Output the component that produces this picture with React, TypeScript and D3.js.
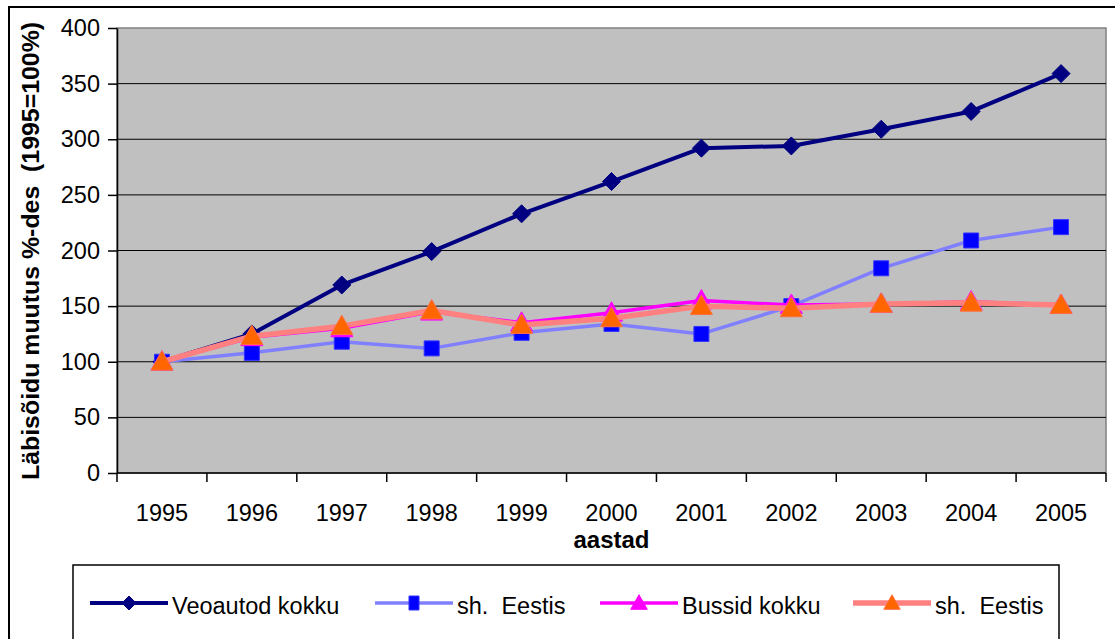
import { useEffect, useRef } from "react";
import * as d3 from "d3";

const years = ["1995", "1996", "1997", "1998", "1999", "2000", "2001", "2002", "2003", "2004", "2005"];
const veoautodKokku = [100, 125, 169, 199, 233, 262, 292, 294, 309, 325, 359];
const veoautodEestis = [100, 108, 118, 112, 126, 134, 125, 150, 184, 209, 221];
const bussidKokku = [100, 122, 130, 145, 135, 144, 155, 151, 152, 154, 151];
const bussidEestis = [100, 123, 132, 146, 133, 139, 150, 148, 152, 153, 151];
const yTicks = [0, 50, 100, 150, 200, 250, 300, 350, 400];

type Marker = "diamond" | "square" | "triangle";

interface Series {
  name: string;
  values: number[];
  line: string;
  width: number;
  marker: Marker;
  fill: string;
  stroke: string;
}

const series: Series[] = [
  { name: "Veoautod kokku", values: veoautodKokku, line: "#000080", width: 4, marker: "diamond", fill: "#000080", stroke: "#000080" },
  { name: "sh.  Eestis", values: veoautodEestis, line: "#8080FF", width: 3.5, marker: "square", fill: "#0000FF", stroke: "#3333FF" },
  { name: "Bussid kokku", values: bussidKokku, line: "#FF00FF", width: 3.5, marker: "triangle", fill: "#FF00FF", stroke: "#FF00FF" },
  { name: "sh.  Eestis", values: bussidEestis, line: "#FF8080", width: 5.5, marker: "triangle", fill: "#FF6600", stroke: "#FF7040" },
];

const FONT = "'Liberation Sans', Arial, sans-serif";

const markerPath = (m: Marker, s: number) => {
  if (m === "diamond") return `M0,${-s / 2}L${s / 2},0L0,${s / 2}L${-s / 2},0Z`;
  if (m === "square") return `M${-s / 2},${-s / 2}h${s}v${s}h${-s}Z`;
  return `M0,${-s * 0.55}L${s * 0.55},${s * 0.42}L${-s * 0.55},${s * 0.42}Z`;
};

const markerSize: Record<Marker, number> = { diamond: 18, square: 15, triangle: 20 };

const App = () => {
  const svgRef = useRef<SVGSVGElement>(null);

  useEffect(() => {
    if (!svgRef.current) return;
    const svg = d3.select(svgRef.current);
    svg.selectAll("*").remove();

    const left = 117;
    const right = 1106;
    const top = 28;
    const bottom = 473;

    const x = d3.scaleBand<string>().domain(years).range([left, right]);
    const y = d3.scaleLinear().domain([0, 400]).range([bottom, top]);
    const cx = (yr: string) => (x(yr) ?? 0) + x.bandwidth() / 2;

    svg.append("rect").attr("width", 1115).attr("height", 639).attr("fill", "#fff");
    // outer chart border
    svg.append("rect")
      .attr("x", 9).attr("y", 7).attr("width", 1130).attr("height", 660)
      .attr("fill", "none").attr("stroke", "#000").attr("stroke-width", 2);

    // plot area
    svg.append("rect")
      .attr("x", left).attr("y", top).attr("width", right - left).attr("height", bottom - top)
      .attr("fill", "#C0C0C0").attr("stroke", "#808080").attr("stroke-width", 1.5);

    const g = svg.append("g");
    g.selectAll(".grid")
      .data(yTicks.filter((t) => t > 0 && t < 400))
      .join("line")
      .attr("x1", left).attr("x2", right)
      .attr("y1", (d) => y(d)).attr("y2", (d) => y(d))
      .attr("stroke", "#000").attr("stroke-width", 1);

    // y axis
    const yAxis = d3.axisLeft(y).tickValues(yTicks).tickSize(9).tickSizeOuter(0).tickPadding(8);
    const ya = svg.append("g").attr("transform", `translate(${left},0)`).call(yAxis);
    ya.select(".domain").attr("stroke", "#000").attr("stroke-width", 1.5);
    ya.selectAll(".tick line").attr("stroke", "#000").attr("stroke-width", 1.5);
    ya.selectAll(".tick text").attr("font-family", FONT).attr("font-size", 23.5).attr("fill", "#000");

    // x axis line + boundary ticks
    svg.append("line")
      .attr("x1", left).attr("x2", right).attr("y1", bottom).attr("y2", bottom)
      .attr("stroke", "#000").attr("stroke-width", 1.5);
    const bounds = [...years.map((yr) => x(yr) ?? 0), right];
    svg.selectAll(".xt")
      .data(bounds)
      .join("line")
      .attr("x1", (d) => d).attr("x2", (d) => d)
      .attr("y1", bottom).attr("y2", bottom + 9)
      .attr("stroke", "#000").attr("stroke-width", 1.5);
    svg.selectAll(".xl")
      .data(years)
      .join("text")
      .attr("x", (d) => cx(d)).attr("y", 521)
      .attr("text-anchor", "middle")
      .attr("font-family", FONT).attr("font-size", 23.5)
      .text((d) => d);

    svg.append("text")
      .attr("x", cx("2000")).attr("y", 548)
      .attr("text-anchor", "middle")
      .attr("font-family", FONT).attr("font-size", 24).attr("font-weight", "bold")
      .text("aastad");

    svg.append("text")
      .attr("transform", `translate(39,251) rotate(-90)`)
      .attr("text-anchor", "middle")
      .attr("font-family", FONT).attr("font-size", 24).attr("font-weight", "bold")
      .style("white-space", "pre")
      .attr("textLength", 458).attr("lengthAdjust", "spacingAndGlyphs")
      .text("Läbisõidu muutus %-des  (1995=100%)");

    // series
    const line = d3.line<number>().x((_, i) => cx(years[i])).y((d) => y(d));
    series.forEach((s) => {
      const sg = svg.append("g");
      sg.append("path")
        .attr("d", line(s.values))
        .attr("fill", "none").attr("stroke", s.line).attr("stroke-width", s.width)
        .attr("stroke-linejoin", "round");
      sg.selectAll("path.m")
        .data(s.values)
        .join("path")
        .attr("class", "m")
        .attr("transform", (d, i) => `translate(${cx(years[i])},${y(d)})`)
        .attr("d", markerPath(s.marker, markerSize[s.marker]))
        .attr("fill", s.fill).attr("stroke", s.stroke).attr("stroke-width", 1);
    });

    // legend
    svg.append("rect")
      .attr("x", 73).attr("y", 565).attr("width", 986).attr("height", 120)
      .attr("fill", "#fff").attr("stroke", "#000").attr("stroke-width", 1.5);
    const legendX = [90, 375, 600, 853];
    const ly = 603;
    series.forEach((s, i) => {
      const lx = legendX[i];
      const lg = svg.append("g");
      lg.append("line")
        .attr("x1", lx).attr("x2", lx + 78).attr("y1", ly).attr("y2", ly)
        .attr("stroke", s.line).attr("stroke-width", s.width);
      const ms = s.marker === "square" ? 12 : s.marker === "diamond" ? 14 : 15;
      lg.append("path")
        .attr("transform", `translate(${lx + 39},${ly})`)
        .attr("d", s.marker === "square" ? `M-5,-7h10v14h-10Z` : markerPath(s.marker, ms))
        .attr("fill", s.fill).attr("stroke", s.stroke).attr("stroke-width", 1);
      lg.append("text")
        .attr("x", lx + 82).attr("y", ly + 11)
        .attr("font-family", FONT).attr("font-size", 23.5)
        .style("white-space", "pre")
        .text(s.name);
    });
  }, []);

  return (
    <svg
      ref={svgRef}
      width={1115}
      height={639}
      style={{ position: "absolute", left: 0, top: 0 }}
    />
  );
};

export default App;
